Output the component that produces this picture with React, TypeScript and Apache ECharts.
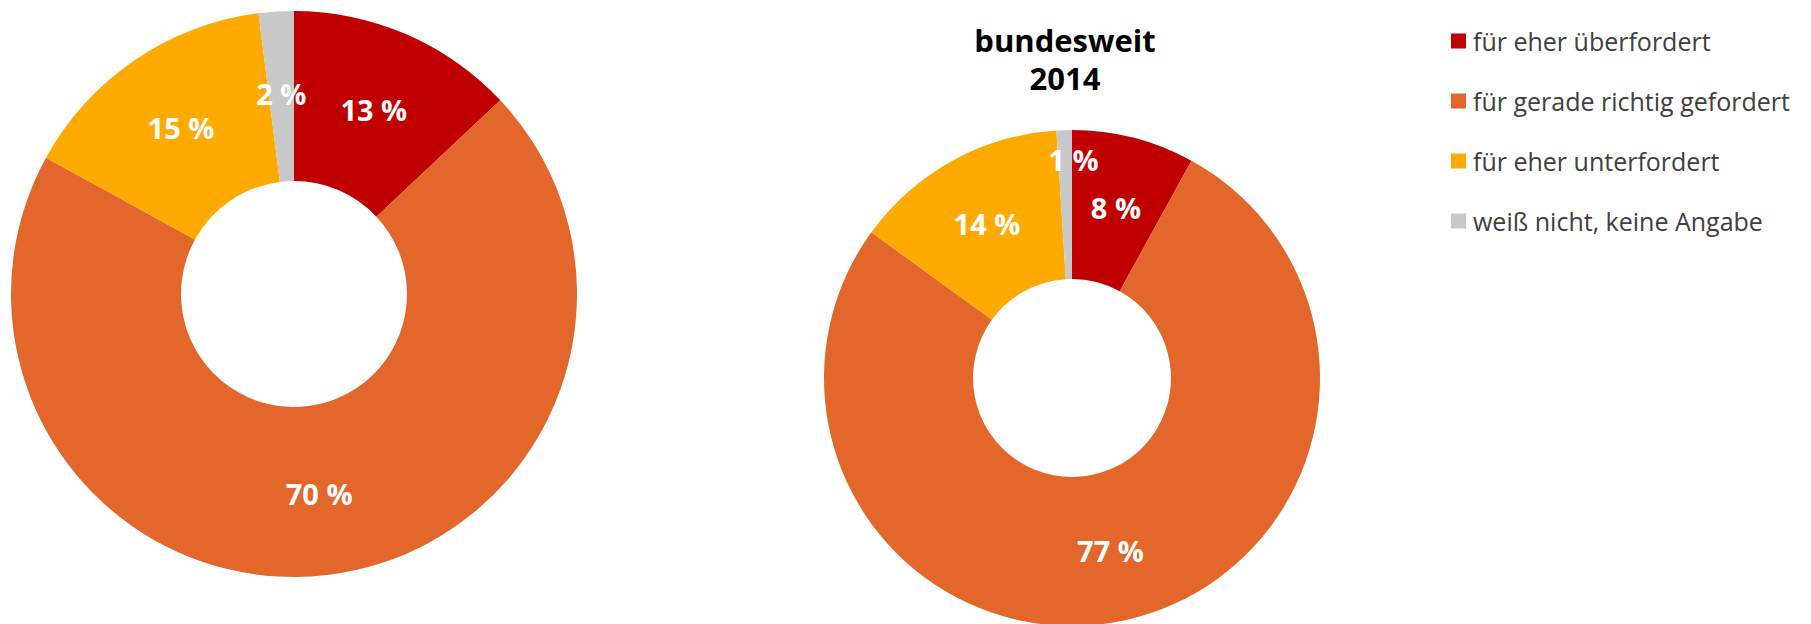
import React, { useEffect, useRef } from "react";
import * as echarts from "echarts";

const categories = [
  "für eher überfordert",
  "für gerade richtig gefordert",
  "für eher unterfordert",
  "weiß nicht, keine Angabe",
];
const colors = ["#C00000", "#E3672B", "#FFAA00", "#C8C8C8"];
const valuesLeft = [13, 70, 15, 2];
const valuesRight = [8, 77, 14, 1];
const titleRight = "bundesweit\n2014";

export default function App() {
  const ref = useRef<HTMLDivElement>(null);
  useEffect(() => {
    document.body.style.margin = "0";
    if (!ref.current) return;
    const chart = echarts.init(ref.current, undefined, { renderer: "svg" });
    const font = "'Open Sans', 'Noto Sans', sans-serif";
    const mkData = (vals: number[]) =>
      vals.map((v, i) => ({ name: categories[i], value: v, itemStyle: { color: colors[i] } }));
    const label = {
      show: true,
      position: "inside",
      formatter: "{c} %",
      color: "#FFFFFF",
      fontFamily: font,
      fontWeight: "bold",
      fontSize: 29,
    };
    chart.setOption({
      animation: false,
      backgroundColor: "#FFFFFF",
      title: {
        text: titleRight,
        left: 1065,
        top: 21,
        textAlign: "center",
        padding: 0,
        textStyle: {
          fontFamily: font,
          fontWeight: "bold",
          fontSize: 31,
          lineHeight: 38,
          color: "#000000",
        },
      },
      legend: {
        data: categories,
        orient: "vertical",
        left: 1451,
        top: 26,
        padding: 0,
        icon: "rect",
        itemWidth: 15,
        itemHeight: 15,
        itemGap: 30,
        textStyle: {
          fontFamily: font,
          fontSize: 25,
          lineHeight: 30,
          color: "#404040",
          padding: [0, 0, 0, 2],
        },
      },
      series: [
        {
          type: "pie",
          center: [294, 294],
          radius: [113, 283],
          startAngle: 90,
          clockwise: true,
          label,
          labelLine: { show: false },
          emphasis: { disabled: true },
          itemStyle: { borderWidth: 0 },
          data: mkData(valuesLeft),
        },
        {
          type: "pie",
          center: [1072, 378],
          radius: [99, 248],
          startAngle: 90,
          clockwise: true,
          label,
          labelLine: { show: false },
          emphasis: { disabled: true },
          itemStyle: { borderWidth: 0 },
          labelLayout: (params: any) =>
            params.dataIndex === 3 ? { dx: 7, dy: -42 } : {},
          data: mkData(valuesRight),
        },
      ],
    });
    return () => chart.dispose();
  }, []);
  return <div ref={ref} style={{ width: 1811, height: 624 }} />;
}
